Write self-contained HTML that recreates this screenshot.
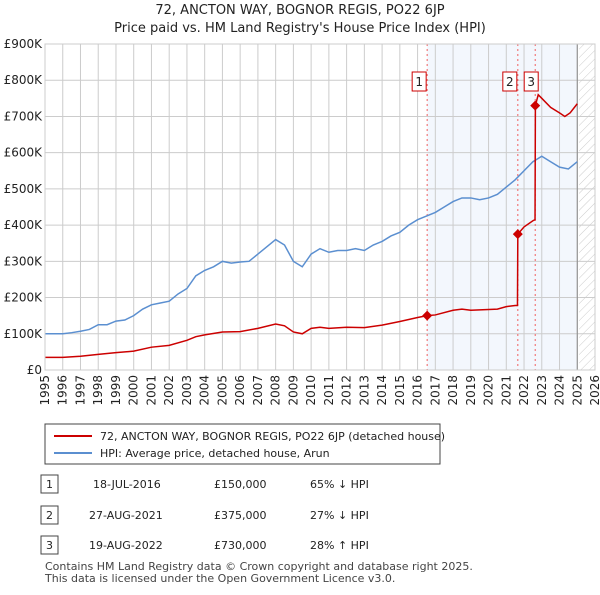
<!DOCTYPE html>
<html><head><meta charset="utf-8"><style>
body{margin:0;background:#fff;font-family:"Liberation Sans","DejaVu Sans",sans-serif;}
svg text{font-family:"DejaVu Sans","Liberation Sans",sans-serif;}
</style></head><body>
<svg id="c" width="600" height="590" viewBox="0 0 600 590">
<defs><pattern id="hatch" width="6" height="6" patternUnits="userSpaceOnUse" patternTransform="rotate(45)"><line x1="0" y1="0" x2="0" y2="6" stroke="#ccc" stroke-width="1"/></pattern></defs>
<text x="300" y="14" text-anchor="middle" font-size="13" fill="#222">72, ANCTON WAY, BOGNOR REGIS, PO22 6JP</text>
<text x="300" y="32" text-anchor="middle" font-size="13" fill="#222">Price paid vs. HM Land Registry's House Price Index (HPI)</text>
<g id="plot"></g>
<g>
<rect x="45" y="424" width="395" height="40" fill="#fff" stroke="#444"/>
<line x1="54" y1="436" x2="92" y2="436" stroke="#cc0000" stroke-width="2"/>
<text x="100" y="440" font-size="11" fill="#222">72, ANCTON WAY, BOGNOR REGIS, PO22 6JP (detached house)</text>
<line x1="54" y1="453" x2="92" y2="453" stroke="#5b8fd0" stroke-width="2"/>
<text x="100" y="457" font-size="11" fill="#222">HPI: Average price, detached house, Arun</text>
</g>
<g font-size="11" fill="#222">
<rect x="41" y="475" width="17" height="18" fill="#fff" stroke="#444"/><text x="49.5" y="488" text-anchor="middle">1</text>
<text x="93" y="488">18-JUL-2016</text><text x="214" y="488">£150,000</text><text x="310" y="488">65% ↓ HPI</text>
<rect x="41" y="506" width="17" height="18" fill="#fff" stroke="#444"/><text x="49.5" y="519" text-anchor="middle">2</text>
<text x="89" y="519">27-AUG-2021</text><text x="214" y="519">£375,000</text><text x="310" y="519">27% ↓ HPI</text>
<rect x="41" y="536" width="17" height="18" fill="#fff" stroke="#444"/><text x="49.5" y="549" text-anchor="middle">3</text>
<text x="89" y="549">19-AUG-2022</text><text x="214" y="549">£730,000</text><text x="310" y="549">28% ↑ HPI</text>
</g>
<text x="45" y="570" font-size="11" fill="#444">Contains HM Land Registry data © Crown copyright and database right 2025.</text>
<text x="45" y="582" font-size="11" fill="#444">This data is licensed under the Open Government Licence v3.0.</text>
</svg>
<script>
const years=[1995,1995.5,1996,1996.5,1997,1997.5,1998,1998.5,1999,1999.5,2000,2000.5,2001,2001.5,2002,2002.5,2003,2003.5,2004,2004.5,2005,2005.5,2006,2006.5,2007,2007.5,2008,2008.5,2009,2009.5,2010,2010.5,2011,2011.5,2012,2012.5,2013,2013.5,2014,2014.5,2015,2015.5,2016,2016.5,2017,2017.5,2018,2018.5,2019,2019.5,2020,2020.5,2021,2021.5,2022,2022.5,2023,2023.5,2024,2024.5,2025];
const hpi=[100,100,100,103,107,112,125,125,135,138,150,168,180,185,190,210,225,260,275,285,300,295,298,300,320,340,360,345,300,285,320,335,325,330,330,335,330,345,355,370,380,400,415,425,435,450,465,475,475,470,475,485,505,525,550,575,590,575,560,555,575];
const priceYears=[1995,1996,1997,1998,1999,2000,2001,2002,2003,2003.5,2004,2005,2006,2007,2008,2008.5,2009,2009.5,2010,2010.5,2011,2012,2013,2014,2015,2016,2016.54,2017,2018,2018.5,2019,2020,2020.5,2021,2021.5,2021.63,2021.65,2022,2022.5,2022.62,2022.64,2022.8,2023,2023.5,2024,2024.3,2024.6,2025];
const price=[35,35,38,43,48,52,63,68,82,92,97,105,106,115,127,122,105,100,115,118,115,118,117,124,134,145,150,152,165,168,165,167,168,175,178,178,375,395,412,415,730,760,750,725,710,700,710,735];
const sales=[[2016.54,150,'1'],[2021.65,375,'2'],[2022.63,730,'3']];
const yTicks=[0,100,200,300,400,500,600,700,800,900];
const yLabels=['£0','£100K','£200K','£300K','£400K','£500K','£600K','£700K','£800K','£900K'];
const xTicks=[1995,1996,1997,1998,1999,2000,2001,2002,2003,2004,2005,2006,2007,2008,2009,2010,2011,2012,2013,2014,2015,2016,2017,2018,2019,2020,2021,2022,2023,2024,2025,2026];
const L=45,R=595,T=44,B=370;
const x=v=>L+(v-1995)/31*(R-L);
const y=v=>B-v/900*(B-T);
const g=document.getElementById('plot');const NS='http://www.w3.org/2000/svg';
function mk(t,a,p){const e=document.createElementNS(NS,t);for(const k in a)e.setAttribute(k,a[k]);(p||g).appendChild(e);return e;}
let e;
e=mk('rect',{x:x(2016.54),y:T,width:x(2025.0)-x(2016.54),height:B-T,fill:'#eef3fc',opacity:0.7});


e=mk('rect',{x:x(2025.1),y:T,width:R-x(2025.1),height:B-T,fill:'url(#hatch)'});


yTicks.forEach((t,i)=>{
 e=mk('line',{x1:L,x2:R,y1:y(t),y2:y(t),stroke:'#ccc'});
 
 
 e=mk('text',{x:L-3,y:y(t)+4,'text-anchor':'end','font-size':12,fill:'#222'});e.textContent=yLabels[i];
 
 
});
xTicks.forEach(t=>{
 e=mk('line',{x1:x(t),x2:x(t),y1:T,y2:B,stroke:'#ccc'});
 
 
 e=mk('text',{x:0,y:0,'text-anchor':'end','font-size':12,fill:'#222',transform:`translate(${x(t)+4},${B+5}) rotate(-90)`});e.textContent=t;
 
 
});
e=mk('line',{x1:x(2025.0),x2:x(2025.0),y1:T,y2:B,stroke:'#888'});


sales.forEach(s=>{
 e=mk('line',{x1:x(s[0]),x2:x(s[0]),y1:T,y2:B,stroke:'#f06060','stroke-dasharray':'2,3'});
 
 
});
e=mk('polyline',{points:years.map((v,i)=>x(v)+','+y(hpi[i])).join(' '),fill:'none',stroke:'#5b8fd0','stroke-width':1.5});


e=mk('polyline',{points:priceYears.map((v,i)=>x(v)+','+y(price[i])).join(' '),fill:'none',stroke:'#cc0000','stroke-width':1.5});


sales.forEach(s=>{
 const cx=x(s[0]),cy=y(s[1]);
 e=mk('path',{d:`M${cx},${cy-5}L${cx+5},${cy}L${cx},${cy+5}L${cx-5},${cy}Z`,fill:'#cc0000'});
 
 
 const bx=s[2]==='3'?cx-5:cx-9;
 e=mk('rect',{x:bx-6,y:72,width:14,height:19,fill:'#fff',stroke:'#cc0000'});
 
 
 e=mk('text',{x:bx+1,y:86,'text-anchor':'middle','font-size':12,fill:'#222'});e.textContent=s[2];
 
 
});
e=mk('rect',{x:L,y:T,width:R-L,height:B-T,fill:'none',stroke:'#ccc'});


</script>
</body></html>
